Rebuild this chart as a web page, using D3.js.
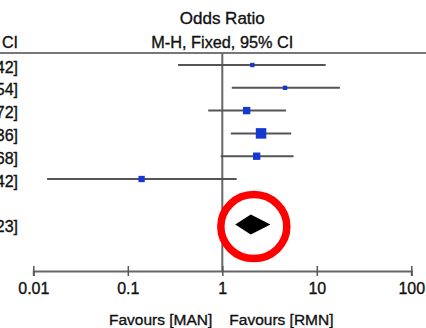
<!DOCTYPE html>
<html>
<head>
<meta charset="utf-8">
<script src="https://cdn.jsdelivr.net/npm/d3@7"></script>
<style>
  html, body { margin: 0; padding: 0; background: #fff; }
  svg { display: block; font-family: "Liberation Sans", Arial, sans-serif; }
  svg text { stroke: #111; stroke-width: 0.35px; }
</style>
</head>
<body>
<div id="chart"></div>
<script>
// study odds ratios (M-H, fixed) with 95% CI
const oddsRatio = [2.08, 4.61, 1.81, 2.57, 2.31, 0.14];
const ciLower = [0.34, 1.26, 0.71, 1.23, 0.96, 0.014];
const ciUpper = [12.42, 17.54, 4.72, 5.36, 5.68, 1.42];
const weights = [6.5, 6.5, 18.5, 37.5, 18.4, 13.5];

// pooled estimate
const totalOR = 2.00;
const totalLower = 1.37;
const totalUpper = 3.23;

const tickValues = [0.01, 0.1, 1, 10, 100];
const tickLabels = ['0.01', '0.1', '1', '10', '100'];
const favourLabels = ['Favours [MAN]', 'Favours [RMN]'];

const width = 426, height = 328;

const svg = d3.select('#chart')
  .append('svg')
  .attr('width', width)
  .attr('height', height);

const x = d3.scaleLog().domain([0.01, 100]).range([33.3, 411.3]);
const y = d3.scaleLinear().domain([0, 7]).range([65, 224.6]);
const boxSize = d3.scaleSqrt().domain([0, 37.5]).range([0, 10.5]);

const axisY = 271;
const headerY = 53;

// header
svg.append('text')
  .attr('x', x(1)).attr('y', 24)
  .attr('text-anchor', 'middle')
  .attr('font-size', 17)
  .attr('fill', '#111')
  .text('Odds Ratio');

svg.append('text')
  .attr('x', x(1)).attr('y', 47.5)
  .attr('text-anchor', 'middle')
  .attr('font-size', 16)
  .attr('textLength', 142)
  .attr('lengthAdjust', 'spacingAndGlyphs')
  .attr('fill', '#111')
  .text('M-H, Fixed, 95% CI');

// left column (clipped in the crop)
svg.append('text')
  .attr('x', 18).attr('y', 47.5)
  .attr('text-anchor', 'end')
  .attr('font-size', 16)
  .attr('fill', '#111')
  .text('M-H, Fixed, 95% CI');

svg.append('line')
  .attr('x1', 0).attr('x2', width)
  .attr('y1', headerY).attr('y2', headerY)
  .attr('stroke', '#777')
  .attr('stroke-width', 2);

const fmt = v => v.toFixed(2);
const leftText = oddsRatio.map((d, i) => `${fmt(d)} [${fmt(ciLower[i])}, ${fmt(ciUpper[i])}]`);

svg.append('g')
  .selectAll('text')
  .data(leftText)
  .enter()
  .append('text')
  .attr('x', 18)
  .attr('y', (d, i) => y(i) + 7.5)
  .attr('text-anchor', 'end')
  .attr('font-size', 16)
  .attr('fill', '#111')
  .text(d => d);

svg.append('text')
  .attr('x', 18)
  .attr('y', y(7) + 7)
  .attr('text-anchor', 'end')
  .attr('font-size', 16)
  .attr('fill', '#111')
  .text(`${fmt(totalOR)} [${fmt(totalLower)}, ${fmt(totalUpper)}]`);

// line of no effect
svg.append('line')
  .attr('x1', x(1)).attr('x2', x(1))
  .attr('y1', headerY).attr('y2', axisY)
  .attr('stroke', '#666')
  .attr('stroke-width', 2);

// CI lines
svg.append('g')
  .selectAll('line')
  .data(oddsRatio)
  .enter()
  .append('line')
  .attr('x1', (d, i) => x(ciLower[i]))
  .attr('x2', (d, i) => x(ciUpper[i]))
  .attr('y1', (d, i) => y(i))
  .attr('y2', (d, i) => y(i))
  .attr('stroke', '#555')
  .attr('stroke-width', 2);

// weighted boxes
svg.append('g')
  .selectAll('rect')
  .data(oddsRatio)
  .enter()
  .append('rect')
  .attr('x', (d, i) => x(d) - boxSize(weights[i]) / 2)
  .attr('y', (d, i) => y(i) - boxSize(weights[i]) / 2)
  .attr('width', (d, i) => boxSize(weights[i]))
  .attr('height', (d, i) => boxSize(weights[i]))
  .attr('fill', '#1438d0');

// pooled diamond
const dy = y(7);
svg.append('path')
  .attr('d', `M${x(totalLower)},${dy}L${x(totalOR)},${dy - 10}L${x(totalUpper)},${dy}L${x(totalOR)},${dy + 10}Z`)
  .attr('fill', '#000');

// highlight ring
svg.append('ellipse')
  .attr('cx', (x(totalLower) + x(totalUpper)) / 2 + 1)
  .attr('cy', dy + 2)
  .attr('rx', 33)
  .attr('ry', 32)
  .attr('fill', 'none')
  .attr('stroke', '#ff0000')
  .attr('stroke-width', 7.5);

// axis
const axis = d3.axisBottom(x)
  .tickValues(tickValues)
  .tickFormat((d, i) => tickLabels[i])
  .tickSizeOuter(0)
  .tickSize(5);

const gAxis = svg.append('g')
  .attr('transform', `translate(0,${axisY})`)
  .call(axis);

gAxis.select('.domain')
  .attr('stroke', '#666')
  .attr('stroke-width', 2);
gAxis.selectAll('.tick line')
  .attr('stroke', '#555')
  .attr('stroke-width', 1.5)
  .attr('y1', -5);
gAxis.selectAll('.tick text')
  .attr('font-family', '"Liberation Sans", Arial, sans-serif')
  .attr('font-size', 16)
  .attr('fill', '#111')
  .attr('dy', '0.71em')
  .attr('y', 12);

// favours labels
svg.append('text')
  .attr('x', x(1) - 10).attr('y', 325)
  .attr('text-anchor', 'end')
  .attr('font-size', 15.5)
  .attr('fill', '#111')
  .text(favourLabels[0]);

svg.append('text')
  .attr('x', x(1) + 7).attr('y', 325)
  .attr('text-anchor', 'start')
  .attr('font-size', 15.5)
  .attr('fill', '#111')
  .text(favourLabels[1]);
</script>
</body>
</html>
